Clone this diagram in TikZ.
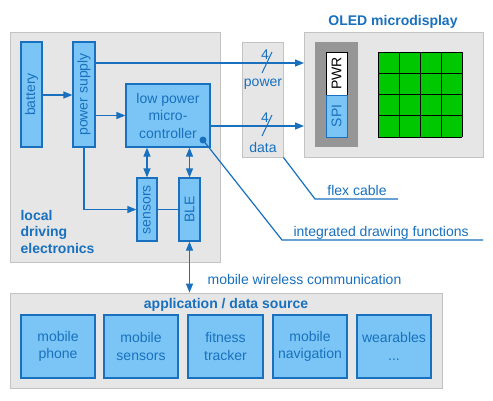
\documentclass[tikz,border=0pt]{standalone}
\usepackage{fontspec}
\setmainfont{Liberation Sans}
\usetikzlibrary{
	arrows.meta,
	calc,
	positioning
}
\definecolor{boxblue}{RGB}{122,197,245}
\definecolor{lineblue}{RGB}{24,112,190}
\definecolor{panelgray}{RGB}{230,230,230}
\definecolor{panelline}{RGB}{195,195,195}
\definecolor{holdergray}{RGB}{150,150,150}
\definecolor{pixelgreen}{RGB}{0,200,0}
\tikzset{every path/.append style={line width=1.2pt}}
\tikzset{every path/.append style={>={Triangle[length=9pt,width=7pt]}}}
\tikzset{
	txt/.style={font=\fontsize{14}{17.5}\selectfont,text=lineblue,inner sep=0pt},
	panel/.style={draw=panelline,fill=panelgray,line width=0.8pt,inner sep=0pt},
	block/.style={draw=lineblue,fill=boxblue,txt,align=center},
	link/.style={draw=lineblue},
	dot/.style={circle,fill=lineblue,inner sep=0pt,minimum size=7pt}
}
\newcommand{\tikzBlock}[4][]{\node (#3) at #2 [block,#1] {#4};}

\begin{document}
\begin{tikzpicture}[x=1pt,y=-1pt]
	\fill[white] (0,0) rectangle (493,400);
	\useasboundingbox (0,0) rectangle (493,400);

	% panels
	\node (local) at (115,147) [panel,minimum width=210,minimum height=230] {};
	\node (flex) at (262.5,99.5) [panel,minimum width=41,minimum height=115] {};
	\node (oled) at (393.5,94.5) [panel,minimum width=179,minimum height=125] {};
	\node (app) at (226,340.5) [panel,minimum width=432,minimum height=95] {};

	\node (oledtitle) at (393,22) [txt,font=\fontsize{14}{17}\selectfont\bfseries] {OLED microdisplay};
	\node (apptitle) at (226,305) [txt,font=\fontsize{14}{17}\selectfont\bfseries] {application / data source};
	\node (locallabel) at (20,231.5) [txt,anchor=west,align=left,font=\fontsize{14}{16.5}\selectfont\bfseries] {local\\driving\\electronics};

	% driving electronics
	\tikzBlock[minimum width=21,minimum height=105]{(31.5,94.5)}{battery}{\rotatebox{90}{battery}}
	\tikzBlock[minimum width=22,minimum height=105]{(84,94.5)}{supply}{\rotatebox{90}{power supply}}
	\tikzBlock[minimum width=84,minimum height=63]{(168,115.5)}{mcu}{low power\\micro-\\controller}
	\tikzBlock[minimum width=20,minimum height=63]{(147,209.5)}{sensors}{\rotatebox{90}{sensors}}
	\tikzBlock[minimum width=21,minimum height=63]{(189.5,209.5)}{ble}{\rotatebox{90}{BLE}}

	% display
	\node (holder) at (336.5,94.5) [fill=holdergray,minimum width=43,minimum height=105,inner sep=0pt] {};
	\node (pwr) at (336.5,73.5) [draw=black,fill=white,line width=0.8pt,minimum width=21,minimum height=43,inner sep=0pt,font=\fontsize{14}{17}\selectfont] {\rotatebox{90}{PWR}};
	\node (spi) at (336.5,116) [block,line width=0.8pt,minimum width=21,minimum height=42] {\rotatebox{90}{SPI}};
	\node (pixels) at (420,94.5) [fill=pixelgreen,minimum width=84,minimum height=85,inner sep=0pt] {};
	\foreach \i in {0,...,4} {
		\draw[black,line width=1pt] (378+21*\i,52) -- (378+21*\i,137);
		\draw[black,line width=1pt] (378,52+21.25*\i) -- (462,52+21.25*\i);
	}

	% flex cable
	\coordinate (pwrin) at (304,63);
	\coordinate (datain) at (304,126);
	\node (pwrcount) at (265,55) [txt] {4};
	\node (pwrname) at (263,84) [txt] {power};
	\node (datacount) at (265,118) [txt] {4};
	\node (dataname) at (263,147) [txt] {data};
	\draw[link,line width=1pt] (262,73) -- (272,52);
	\draw[link,line width=1pt] (262,136) -- (272,115);

	\draw[link,->] (supply.east |- pwrin) -- (pwrin);
	\draw[link,->] (mcu.east |- datain) -- (datain);
	\draw[link,->] (battery.east |- 0,95) -- (supply.west |- 0,95);
	\draw[link,->] (supply.east |- mcu.west) -- (mcu.west);
	\draw[link,->] (supply.south) |- (sensors.west);
	\draw[link] (sensors.east) -- (ble.west);
	\draw[link,<->] (sensors.north) -- (sensors.north |- mcu.south);
	\draw[link,<->] (ble.north) -- (ble.north |- mcu.south);
	\draw[link,<->] (ble.south) -- (ble.south |- app.north);
	\node (wireless) at (207,279) [txt,anchor=west] {mobile wireless communication};

	% callouts
	\node (drawfn) at (203,140) [dot] {};
	\coordinate (drawbend) at (282,240);
	\coordinate (drawend) at (483,240);
	\draw[link] (drawfn.center) -- (drawbend) -- (drawend);
	\node (drawlabel) at (293,236) [txt,anchor=base west] {integrated drawing functions};

	\coordinate (flexbend) at (315,199);
	\coordinate (flexend) at (398,199);
	\draw[link] (flex.south east) -- (flexbend) -- (flexend);
	\node (flexlabel) at (357,195) [txt,anchor=base] {flex cable};

	% application blocks
	\tikzBlock[minimum width=74,minimum height=63]{(58,346.5)}{phone}{mobile\\phone}
	\tikzBlock[minimum width=74,minimum height=63]{(141,346.5)}{msensors}{mobile\\sensors}
	\tikzBlock[minimum width=75,minimum height=63]{(225.5,346.5)}{tracker}{fitness\\tracker}
	\tikzBlock[minimum width=74,minimum height=63]{(310,346.5)}{navigation}{mobile\\navigation}
	\tikzBlock[minimum width=74,minimum height=63]{(394,346.5)}{wearables}{wearables\\...}
\end{tikzpicture}
\end{document}
